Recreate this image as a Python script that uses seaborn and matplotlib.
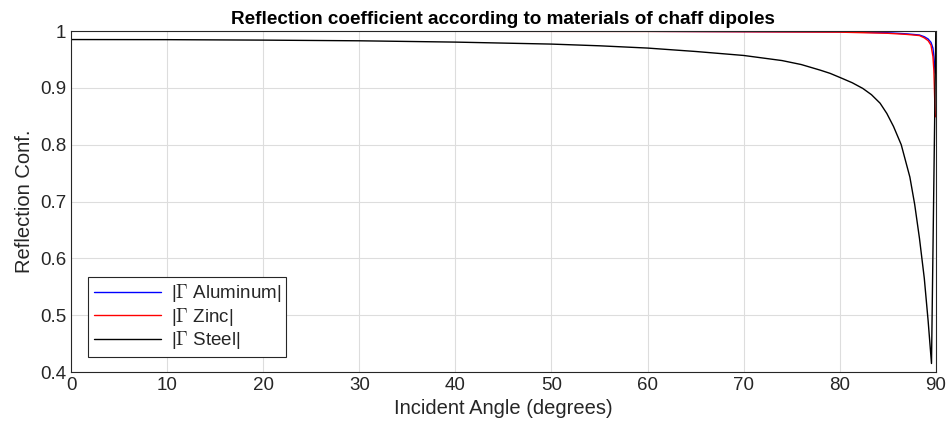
import numpy as np
import pandas as pd
import matplotlib
matplotlib.use('Agg')
import matplotlib.pyplot as plt
import seaborn as sns

# values
steel_angle = [0, 10, 20, 30, 40, 50, 55, 60, 65, 70, 74, 76, 78, 79, 80.2,
               81.3, 82.4, 83.3, 84.2, 84.9, 85.6, 86.4, 87.3, 87.8, 88.3,
               88.8, 89.2, 89.55, 90]
steel_refl = [0.985, 0.9848, 0.984, 0.9828, 0.9805, 0.977, 0.974, 0.970, 0.964,
              0.957, 0.948, 0.941, 0.931, 0.9255, 0.917,
              0.909, 0.899, 0.888, 0.873, 0.855, 0.832, 0.800, 0.743, 0.695,
              0.635, 0.565, 0.490, 0.415, 1.0]

al_angle = [0, 30, 60, 80, 85, 87, 88.3, 88.8, 89.2, 89.5, 89.7, 89.8, 89.9,
            89.95]
al_refl = [0.9998, 0.9997, 0.9995, 0.9985, 0.997, 0.995, 0.993, 0.990, 0.986,
           0.980, 0.970, 0.955, 0.935, 0.926]

zn_angle = [0, 30, 60, 80, 85, 87, 88.3, 88.8, 89.2, 89.5, 89.7, 89.8, 89.9,
            89.95]
zn_refl = [0.9997, 0.9996, 0.9993, 0.998, 0.996, 0.994, 0.992, 0.988, 0.983,
           0.975, 0.955, 0.930, 0.870, 0.849]

sns.set_style('whitegrid')
plt.rcParams['font.family'] = ['Liberation Sans', 'DejaVu Sans']
plt.rcParams['mathtext.fontset'] = 'cm'

fig, ax = plt.subplots(figsize=(9.52, 4.4), dpi=100)
fig.subplots_adjust(left=0.0746, right=0.983, top=0.9295, bottom=0.1545)

sns.lineplot(x=al_angle, y=al_refl, ax=ax, color='#0000ff', lw=1.0,
             label=r'|$\Gamma$ Aluminum|')
sns.lineplot(x=zn_angle, y=zn_refl, ax=ax, color='#ff0000', lw=1.0,
             label=r'|$\Gamma$ Zinc|')
sns.lineplot(x=steel_angle, y=steel_refl, ax=ax, color='#000000', lw=1.0,
             label=r'|$\Gamma$ Steel|')

ax.set_xlim(0, 90)
ax.set_ylim(0.4, 1)
ax.set_xticks(range(0, 91, 10))
ax.set_yticks([0.4, 0.5, 0.6, 0.7, 0.8, 0.9, 1.0])
ax.set_yticklabels(['0.4', '0.5', '0.6', '0.7', '0.8', '0.9', '1'])
ax.grid(True, color='#dddddd', lw=0.8)
ax.tick_params(direction='in', length=5, labelsize=13.5, colors='#262626',
               width=0.8, top=False, right=False)
for s in ax.spines.values():
    s.set_color('#262626')
    s.set_linewidth(0.8)

ax.set_xlabel('Incident Angle (degrees)', fontsize=14.5, color='#262626')
ax.set_ylabel('Reflection Conf.', fontsize=14.5, color='#262626')
ax.set_title('Reflection coefficient according to materials of chaff dipoles',
             fontsize=13.6, fontweight='bold', color='black', pad=5)

leg = ax.legend(loc='lower left', bbox_to_anchor=(0.0197, 0.044), fontsize=13.5,
                borderaxespad=0, fancybox=False, framealpha=1,
                edgecolor='#262626', handlelength=3.6, handletextpad=0.5,
                borderpad=0.3, labelspacing=0.08)
leg.get_frame().set_linewidth(0.8)

plt.savefig('out.png', dpi=100)
